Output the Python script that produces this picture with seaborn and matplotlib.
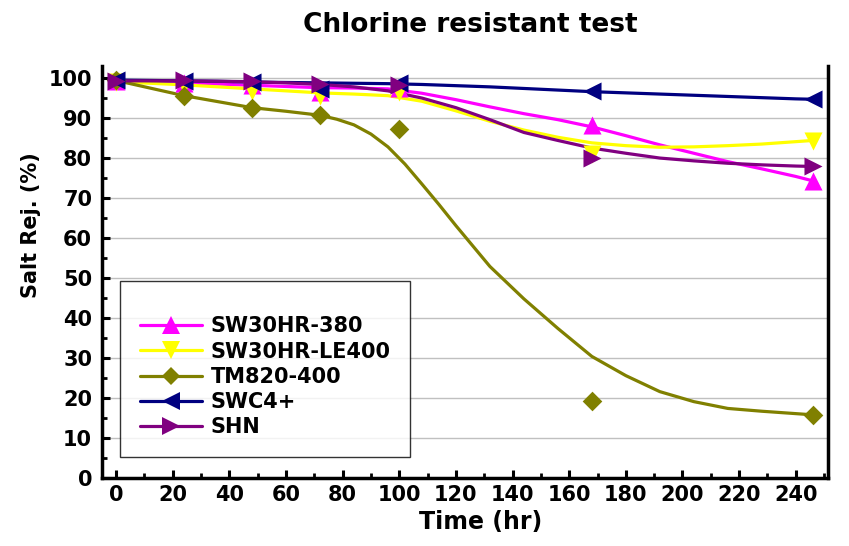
import matplotlib
matplotlib.use("Agg")
import matplotlib.pyplot as plt
import pandas as pd
import seaborn as sns
from matplotlib.lines import Line2D
from matplotlib.ticker import MultipleLocator

# measured points
time_hr = [0, 24, 48, 72, 100, 168, 246]
sw30hr_380 = [99.2, 98.8, 98.2, 96.5, 97.5, 88.3, 74.2]
sw30hr_le400 = [99.0, 98.3, 96.8, 95.5, 96.5, 81.0, 84.2]
tm820_400 = [99.4, 95.6, 92.6, 90.8, 87.3, 19.2, 15.7]
swc4_plus = [99.5, 99.3, 99.0, 97.3, 98.7, 96.7, 94.7]
shn = [99.3, 99.4, 99.2, 98.5, 98.3, 80.0, 77.9]

# smooth fitted curves
fit_hr = [0, 12, 24, 36, 48, 60, 72, 84, 96, 108, 120, 132, 144, 156, 168,
          180, 192, 204, 216, 228, 240, 246]
fit_380 = [99.2, 99.0, 98.8, 98.5, 98.2, 97.9, 97.6, 97.5, 97.3, 96.2, 94.6,
           92.8, 91.1, 89.6, 87.8, 85.6, 83.3, 81.2, 79.1, 77.3, 75.4, 74.3]
fit_le400 = [99.0, 98.7, 98.3, 97.8, 97.3, 96.8, 96.3, 96.0, 95.6, 94.2, 91.8,
             89.2, 87.0, 85.2, 83.8, 83.1, 82.7, 82.8, 83.1, 83.5, 84.1, 84.4]
fit_swc4 = [99.5, 99.4, 99.3, 99.2, 99.0, 98.9, 98.8, 98.7, 98.6, 98.4, 98.1,
            97.8, 97.4, 97.0, 96.6, 96.3, 96.0, 95.7, 95.4, 95.1, 94.8, 94.7]
fit_shn = [99.3, 99.3, 99.3, 99.2, 99.1, 98.8, 98.4, 97.8, 96.8, 95.0, 92.6,
           89.6, 86.4, 84.4, 82.5, 81.2, 80.0, 79.3, 78.7, 78.3, 78.0, 77.9]
# TM820 bends sharply, read it on a finer grid
fit_tm_hr = [0, 12, 24, 36, 48, 60, 72, 78, 84, 90, 96, 102, 108, 114, 120,
             132, 144, 156, 168, 180, 192, 204, 216, 228, 240, 246]
fit_tm820 = [99.4, 97.5, 95.6, 94.1, 92.6, 91.7, 90.7, 89.7, 88.3, 86.0, 82.8,
             78.5, 73.5, 68.4, 63.1, 52.9, 44.8, 37.4, 30.4, 25.6, 21.6, 19.1,
             17.4, 16.7, 16.1, 15.8]

names = ["SW30HR-380", "SW30HR-LE400", "TM820-400", "SWC4+", "SHN"]
colors = ["#FF00FF", "#FFFF00", "#808000", "#000080", "#800080"]
markers = ["^", "v", "D", "<", ">"]
msizes = [13, 13, 10, 13, 13]

pts = {"SW30HR-380": sw30hr_380, "SW30HR-LE400": sw30hr_le400,
       "TM820-400": tm820_400, "SWC4+": swc4_plus, "SHN": shn}
fits = {"SW30HR-380": (fit_hr, fit_380), "SW30HR-LE400": (fit_hr, fit_le400),
        "TM820-400": (fit_tm_hr, fit_tm820), "SWC4+": (fit_hr, fit_swc4),
        "SHN": (fit_hr, fit_shn)}

sns.set_style("ticks")
plt.rcParams["font.family"] = ["DejaVu Sans"]
plt.rcParams["font.weight"] = "bold"
plt.rcParams["text.color"] = "black"
plt.rcParams["axes.labelcolor"] = "black"
plt.rcParams["xtick.color"] = "black"
plt.rcParams["ytick.color"] = "black"

fig = plt.figure(figsize=(8.49, 5.46), dpi=100)
ax = fig.add_axes([0.120, 0.1245, 0.855, 0.7545])

handles = []
for name, c, m, ms in zip(names, colors, markers, msizes):
    fx, fy = fits[name]
    df_fit = pd.DataFrame({"t": fx, "v": fy})
    sns.lineplot(data=df_fit, x="t", y="v", color=c, linewidth=2.3, ax=ax,
                 sort=False, zorder=3)
    df_pt = pd.DataFrame({"t": time_hr, "v": pts[name]})
    sns.scatterplot(data=df_pt, x="t", y="v", color=c, marker=m, s=ms ** 2,
                    linewidth=0, ax=ax, zorder=4)
    handles.append(Line2D([], [], color=c, marker=m, markersize=ms * 0.95,
                          linewidth=2.3, markeredgewidth=0))

ax.set_xlim(-5, 251.3)
ax.set_ylim(0, 103)
ax.xaxis.set_major_locator(MultipleLocator(20))
ax.xaxis.set_minor_locator(MultipleLocator(10))
ax.yaxis.set_major_locator(MultipleLocator(10))
ax.yaxis.set_minor_locator(MultipleLocator(5))
ax.grid(axis="y", which="major", color="#C0C0C0", linewidth=1.0, zorder=0)
ax.set_axisbelow(True)

ax.tick_params(which="major", direction="in", length=6, width=2.2,
               labelsize=15, color="black", labelcolor="black")
ax.tick_params(which="minor", direction="in", length=3.5, width=2.0,
               color="black")
ax.tick_params(axis="y", which="major", pad=7)
ax.tick_params(axis="x", which="major", pad=5)
for lab in ax.get_xticklabels() + ax.get_yticklabels():
    lab.set_fontweight("bold")

for side in ["left", "bottom", "right"]:
    ax.spines[side].set_visible(True)
    ax.spines[side].set_linewidth(2.5)
    ax.spines[side].set_color("black")
ax.spines["top"].set_visible(False)

ax.set_xlabel("")
ax.set_ylabel("")
fig.text(481 / 849, 1 - 522 / 546, "Time (hr)", ha="center", va="center",
         fontsize=17, fontweight="bold", color="black")
fig.text(31 / 849, 1 - 225 / 546, "Salt Rej. (%)", ha="center", va="center",
         rotation=90, fontsize=15, fontweight="bold", color="black")
fig.text(470 / 849, 1 - 25 / 546, "Chlorine resistant test", ha="center",
         va="center", fontsize=19, fontweight="bold", color="black")

leg = ax.legend(handles, names, loc="lower left",
                bbox_to_anchor=(0.0248, 0.051), borderaxespad=0,
                fontsize=15, handlelength=3.0, handletextpad=0.4,
                labelspacing=0.25, borderpad=0.95, fancybox=False,
                frameon=True, title=" ", title_fontsize=8)
leg.get_frame().set_edgecolor("black")
leg.get_frame().set_linewidth(1.0)
for t in leg.get_texts():
    t.set_fontweight("bold")
    t.set_color("black")

fig.savefig("out.png", dpi=100)
